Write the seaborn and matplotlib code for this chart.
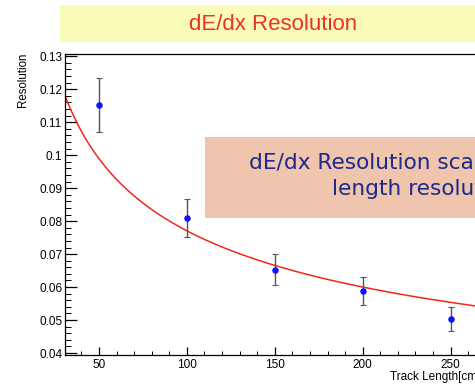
import numpy as np
import pandas as pd
import matplotlib
matplotlib.use("Agg")
import matplotlib.pyplot as plt
from matplotlib.patches import Rectangle
from matplotlib.ticker import MultipleLocator, FuncFormatter
import seaborn as sns

# ---- data ----
track_length = [50, 100, 150, 200, 250]
resolution = [0.1152, 0.0810, 0.0652, 0.0588, 0.0503]
res_error = [0.0081, 0.0058, 0.0047, 0.0042, 0.0036]
# fitted curve y = FIT_A * x^(-FIT_B), parameters read from the drawn fit
FIT_A = 0.4063
FIT_B = 0.361
fit_x_range = [30.7, 290]
title_text = "dE/dx Resolution"
note_line1 = "dE/dx Resolution scales with track"
note_line2 = "length resolution"
xlabel = "Track Length[cm]"
ylabel = "Resolution"

sns.set_theme(style="ticks")
plt.rcParams["font.family"] = ["Liberation Sans", "DejaVu Sans"]

W, H = 475, 384
fig = plt.figure(figsize=(W / 100, H / 100), dpi=100)
fig.patch.set_facecolor("white")

ax = fig.add_axes([65 / W, (H - 355) / H, (521 - 65) / W, (355 - 54) / H])
ax.set_facecolor("white")

df = pd.DataFrame({"x": track_length, "y": resolution, "err": res_error})

# fit curve
fx = np.linspace(fit_x_range[0], fit_x_range[1], 400)
fit_df = pd.DataFrame({"x": fx, "y": FIT_A * fx ** (-FIT_B)})
sns.lineplot(data=fit_df, x="x", y="y", ax=ax, color="#f0281e", linewidth=1.1, zorder=2)

# error bars + points
ax.errorbar(df["x"], df["y"], yerr=df["err"], fmt="none", ecolor="#555555",
            elinewidth=1.0, capsize=2, capthick=0.8, zorder=3)
sns.scatterplot(data=df, x="x", y="y", ax=ax, color="#0a14ff", s=22,
                edgecolor="#0a14ff", linewidth=0, zorder=4)

ax.set_xlim(30.7, 290)
ax.set_ylim(0.0394, 0.1307)
ax.set_xlabel("")
ax.set_ylabel("")

ax.xaxis.set_major_locator(MultipleLocator(50))
ax.xaxis.set_minor_locator(MultipleLocator(10))
ax.yaxis.set_major_locator(MultipleLocator(0.01))
ax.yaxis.set_minor_locator(MultipleLocator(0.002))
ax.yaxis.set_major_formatter(FuncFormatter(lambda v, p: ("%.2f" % v).rstrip("0")))

for s in ax.spines.values():
    s.set_color("black")
    s.set_linewidth(0.9)

ax.tick_params(axis="both", which="both", direction="in", colors="black",
               top=False, right=False, labelsize=8.5)
ax.tick_params(axis="y", which="major", length=8.6, width=0.9, pad=2)
ax.tick_params(axis="y", which="minor", length=4.3, width=0.7)
ax.tick_params(axis="x", which="major", length=5.8, width=0.9, pad=3.2)
ax.tick_params(axis="x", which="minor", length=2.9, width=0.7)
for lab in ax.get_xticklabels() + ax.get_yticklabels():
    lab.set_color("black")

# axis titles (ROOT style)
fig.text(22.7 / W, (H - 53) / H, ylabel, rotation=90, ha="center", va="top",
         fontsize=8.3, color="black")
fig.text(390 / W, (H - 377) / H, xlabel, ha="left", va="center",
         fontsize=8.5, color="black")

# title box
fig.patches.append(Rectangle((60 / W, (H - 42) / H), 426 / W, 37 / H,
                             transform=fig.transFigure, facecolor="#f9fbb8",
                             edgecolor="none", zorder=1))
fig.text(273 / W, (H - 24) / H, title_text, ha="center", va="center",
         fontsize=16, color="#ea3328", zorder=2)

# annotation box
fig.patches.append(Rectangle((205 / W, (H - 218) / H), 425 / W, 81 / H,
                             transform=fig.transFigure, facecolor="#efc5ad",
                             edgecolor="none", zorder=5))
fig.text(249 / W, (H - 168) / H, note_line1, ha="left", va="baseline",
         fontsize=15.6, color="#1c2a8c", family=["DejaVu Sans"], zorder=6)
fig.text(332 / W, (H - 195) / H, note_line2, ha="left", va="baseline",
         fontsize=15.6, color="#1c2a8c", family=["DejaVu Sans"], zorder=6)

fig.savefig("out.png", dpi=100)
